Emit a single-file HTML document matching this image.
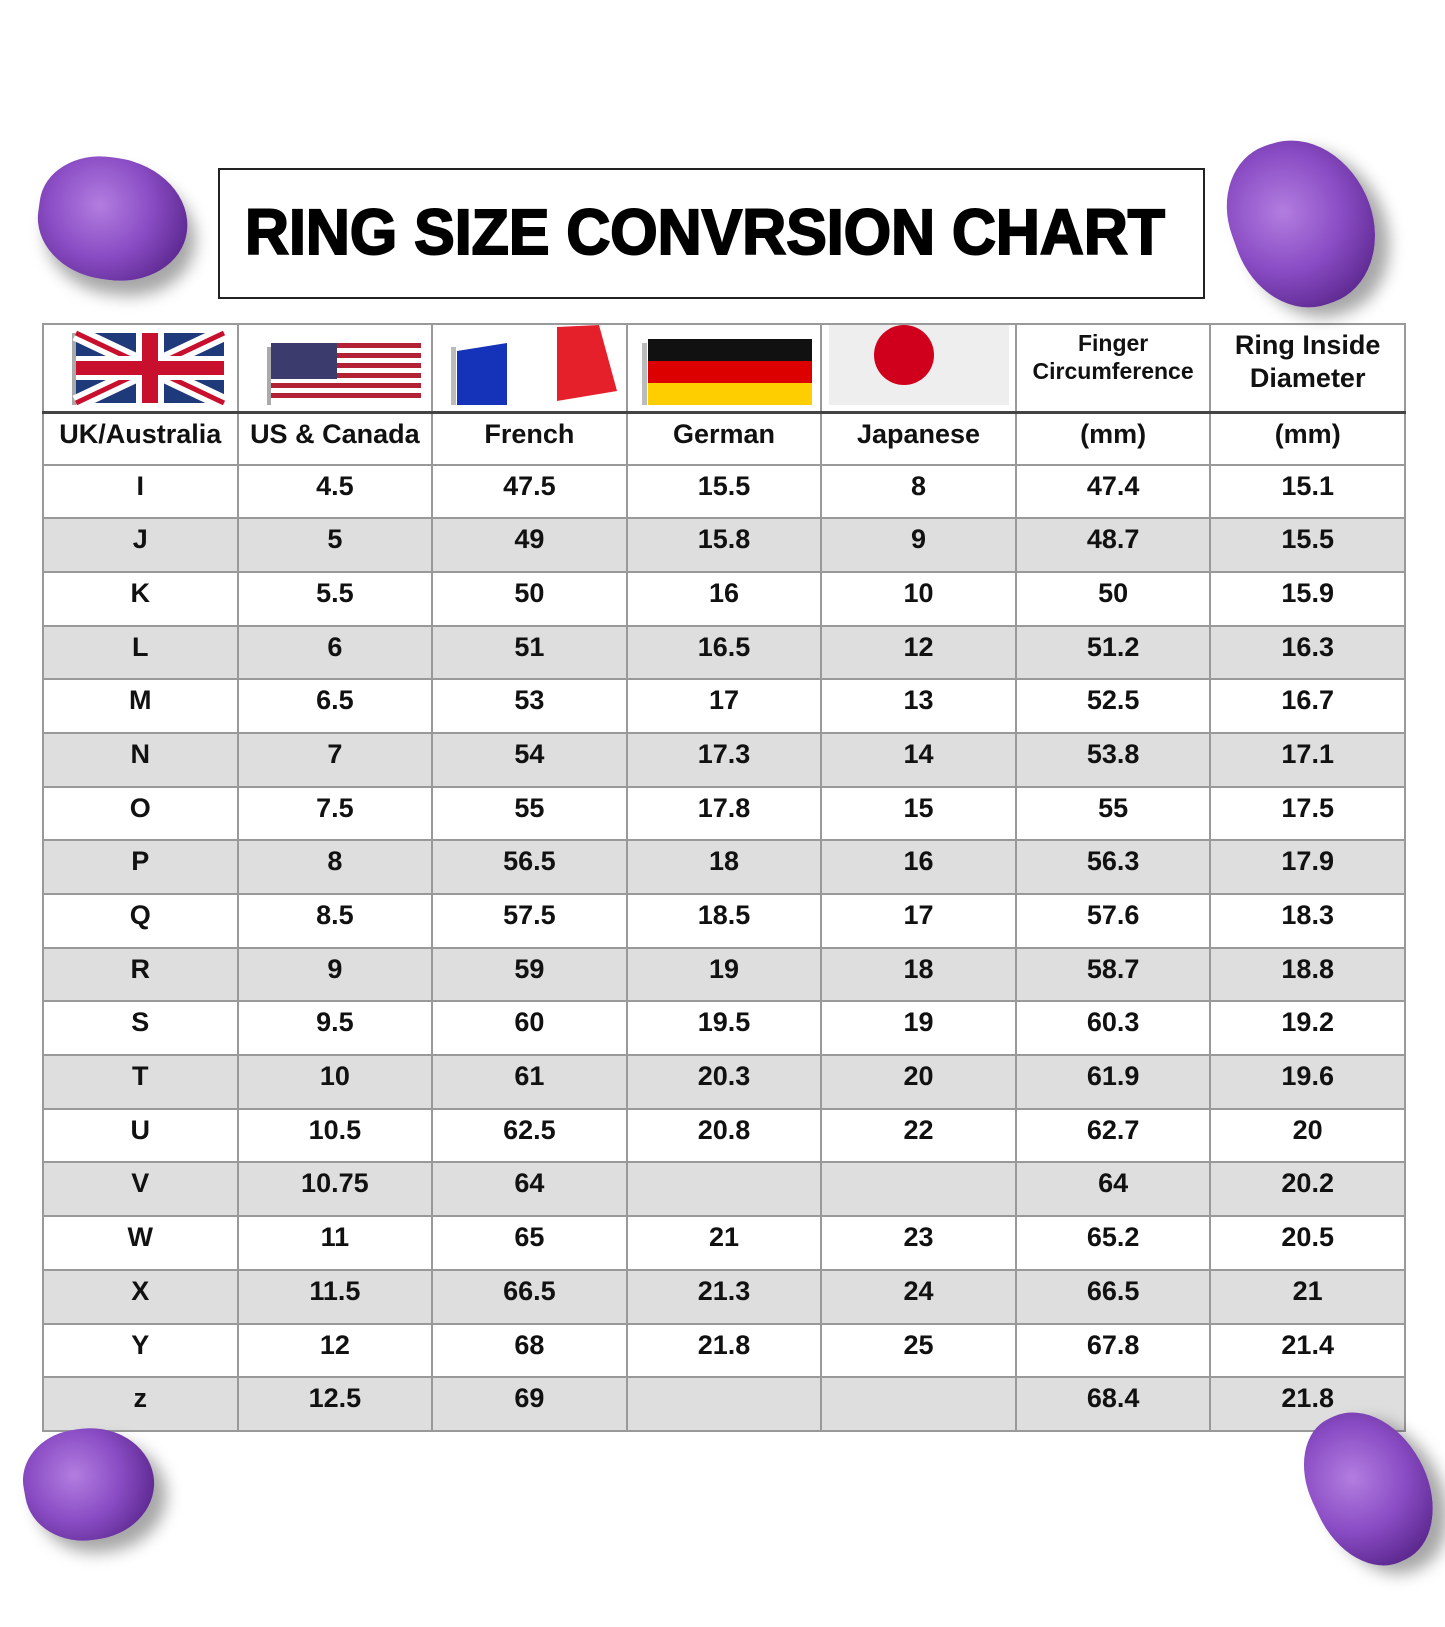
<!DOCTYPE html>
<html><head><meta charset="utf-8"><style>
body{margin:0;width:1445px;height:1627px;background:#fff;position:relative;overflow:hidden;font-family:"Liberation Sans",Arial,sans-serif}
.title{position:absolute;left:218px;top:168px;width:987px;height:131px;border:2px solid #222;box-sizing:border-box;background:#fff}
table{position:absolute;left:42px;top:323px;border-collapse:collapse;width:1364px;table-layout:fixed}
td{border:2px solid #999;text-align:center;font-weight:bold;font-size:27px;color:#111;height:53.7px;padding:0;vertical-align:top;padding-top:5px;box-sizing:border-box}
tr.g td{background:#dedede}
tr.fl td{height:81px;padding:0;vertical-align:middle;font-size:23px;line-height:28px}
tr.hd td{height:52px;border-top:3px solid #444}
.gem{position:absolute;z-index:2;border-radius:45% 55% 50% 50%;background:radial-gradient(circle at 40% 40%,#b27de0,#8a4cc4 45%,#5e2a92 80%);box-shadow:10px 14px 16px rgba(0,0,0,.35)}
</style></head><body>
<div class="title"><svg width="983" height="127"><text x="25" y="84" textLength="920" lengthAdjust="spacingAndGlyphs" font-family="Liberation Sans" font-weight="bold" font-size="64" fill="#000" stroke="#000" stroke-width="2">RING SIZE CONVRSION CHART</text></svg></div>
<table>
<tr class="fl">
<td><svg width="180" height="80"><rect x="22" y="8" width="4" height="72" fill="#aaa"/><rect x="26" y="8" width="148" height="70" fill="#1f3a7a"/><path d="M26 8L174 78M174 8L26 78" stroke="#fff" stroke-width="16"/><path d="M26 8L174 78M174 8L26 78" stroke="#c8102e" stroke-width="5"/><rect x="86" y="8" width="28" height="70" fill="#fff"/><rect x="26" y="31" width="148" height="24" fill="#fff"/><rect x="92" y="8" width="16" height="70" fill="#c8102e"/><rect x="26" y="36" width="148" height="14" fill="#c8102e"/></svg></td>
<td><svg width="180" height="80"><rect x="22" y="22" width="4" height="58" fill="#aaa"/><g><rect x="26" y="18" width="150" height="60" fill="#fff"/><rect x="26" y="18" width="150" height="5" fill="#b22234"/><rect x="26" y="28" width="150" height="5" fill="#b22234"/><rect x="26" y="38" width="150" height="5" fill="#b22234"/><rect x="26" y="48" width="150" height="5" fill="#b22234"/><rect x="26" y="58" width="150" height="5" fill="#b22234"/><rect x="26" y="68" width="150" height="5" fill="#b22234"/><rect x="26" y="18" width="66" height="36" fill="#3c3b6e"/></g></svg></td>
<td><svg width="180" height="80"><rect x="12" y="22" width="5" height="58" fill="#bbb"/><polygon points="18,26 68,18 68,80 18,80" fill="#1433b8"/><polygon points="68,18 118,2 118,76 68,80" fill="#fff"/><polygon points="118,2 160,0 178,66 118,76" fill="#e5202b"/></svg></td>
<td><svg width="180" height="80"><rect x="8" y="18" width="5" height="62" fill="#bbb"/><rect x="14" y="14" width="164" height="22" fill="#111"/><rect x="14" y="36" width="164" height="22" fill="#dd0000"/><rect x="14" y="58" width="164" height="22" fill="#ffce00"/></svg></td>
<td><svg width="180" height="80"><rect x="0" y="0" width="180" height="80" fill="#eee"/><circle cx="75" cy="30" r="30" fill="#d0001c"/></svg></td>
<td style="vertical-align:top;padding-top:4px">Finger<br>Circumference</td>
<td style="vertical-align:top;padding-top:4px;font-size:27px;line-height:33px">Ring Inside<br>Diameter</td>
</tr>
<tr class="hd"><td>UK/Australia</td><td>US &amp; Canada</td><td>French</td><td>German</td><td>Japanese</td><td>(mm)</td><td>(mm)</td></tr>
<tr><td>I</td><td>4.5</td><td>47.5</td><td>15.5</td><td>8</td><td>47.4</td><td>15.1</td></tr>
<tr class="g"><td>J</td><td>5</td><td>49</td><td>15.8</td><td>9</td><td>48.7</td><td>15.5</td></tr>
<tr><td>K</td><td>5.5</td><td>50</td><td>16</td><td>10</td><td>50</td><td>15.9</td></tr>
<tr class="g"><td>L</td><td>6</td><td>51</td><td>16.5</td><td>12</td><td>51.2</td><td>16.3</td></tr>
<tr><td>M</td><td>6.5</td><td>53</td><td>17</td><td>13</td><td>52.5</td><td>16.7</td></tr>
<tr class="g"><td>N</td><td>7</td><td>54</td><td>17.3</td><td>14</td><td>53.8</td><td>17.1</td></tr>
<tr><td>O</td><td>7.5</td><td>55</td><td>17.8</td><td>15</td><td>55</td><td>17.5</td></tr>
<tr class="g"><td>P</td><td>8</td><td>56.5</td><td>18</td><td>16</td><td>56.3</td><td>17.9</td></tr>
<tr><td>Q</td><td>8.5</td><td>57.5</td><td>18.5</td><td>17</td><td>57.6</td><td>18.3</td></tr>
<tr class="g"><td>R</td><td>9</td><td>59</td><td>19</td><td>18</td><td>58.7</td><td>18.8</td></tr>
<tr><td>S</td><td>9.5</td><td>60</td><td>19.5</td><td>19</td><td>60.3</td><td>19.2</td></tr>
<tr class="g"><td>T</td><td>10</td><td>61</td><td>20.3</td><td>20</td><td>61.9</td><td>19.6</td></tr>
<tr><td>U</td><td>10.5</td><td>62.5</td><td>20.8</td><td>22</td><td>62.7</td><td>20</td></tr>
<tr class="g"><td>V</td><td>10.75</td><td>64</td><td></td><td></td><td>64</td><td>20.2</td></tr>
<tr><td>W</td><td>11</td><td>65</td><td>21</td><td>23</td><td>65.2</td><td>20.5</td></tr>
<tr class="g"><td>X</td><td>11.5</td><td>66.5</td><td>21.3</td><td>24</td><td>66.5</td><td>21</td></tr>
<tr><td>Y</td><td>12</td><td>68</td><td>21.8</td><td>25</td><td>67.8</td><td>21.4</td></tr>
<tr class="g"><td>z</td><td>12.5</td><td>69</td><td></td><td></td><td>68.4</td><td>21.8</td></tr>
</table>
<div class="gem" style="left:38px;top:158px;width:150px;height:122px;transform:rotate(8deg)"></div>
<div class="gem" style="left:1232px;top:138px;width:140px;height:170px;transform:rotate(-20deg)"></div>
<div class="gem" style="left:24px;top:1428px;width:130px;height:112px;transform:rotate(-10deg)"></div>
<div class="gem" style="left:1312px;top:1408px;width:115px;height:160px;transform:rotate(-25deg)"></div>
</body></html>
